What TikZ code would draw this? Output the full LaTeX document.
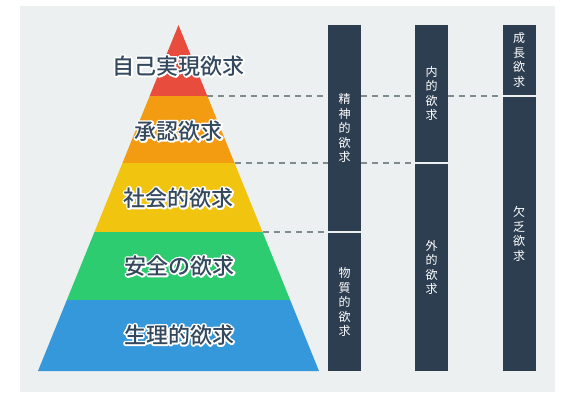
\documentclass[tikz,border=0pt]{standalone}
\usepackage{fontspec}
\newfontfamily\jp{Noto Sans CJK JP}
\newfontfamily\jpm{Noto Sans CJK JP Medium}
\definecolor{bgpanel}{HTML}{ECF0F1}
\definecolor{colbox}{HTML}{2C3E50}
\definecolor{lbltxt}{HTML}{34495E}
\definecolor{dashc}{HTML}{7F8C8D}
\definecolor{pred}{HTML}{E74C3C}
\definecolor{porange}{HTML}{F39C12}
\definecolor{pyellow}{HTML}{F1C40F}
\definecolor{pgreen}{HTML}{2ECC71}
\definecolor{pblue}{HTML}{3498DB}
\tikzset{
  lbl/.style={font=\jpm\fontsize{22}{24}\selectfont, text=lbltxt, inner sep=0pt},
  colseg/.style={fill=colbox, draw=none, minimum width=33pt, inner sep=0pt,
     text=white, align=center, font=\jp\fontsize{12}{14.5}\selectfont},
  guide/.style={draw=dashc, line width=2pt, dash pattern=on 6pt off 5pt},
}
\newcommand\halolabel[3]{%
  \node[lbl, text=white] at (#2) {\special{pdf:literal direct 2 Tr 3.4 w 1 j 1 J}#3\special{pdf:literal direct 0 Tr}};
  \node[lbl] (#1) at (#2) {#3};}
\begin{document}
\begin{tikzpicture}[x=1pt,y=-1pt]
\useasboundingbox (0,0) rectangle (576,407);
\fill[white] (0,0) rectangle (576,407);
\fill[bgpanel] (20,6) rectangle (555,392);
% pyramid
\begin{scope}
  \clip (178.5,25) -- (319,371) -- (38,371) -- cycle;
  \fill[pred]    (30,20)  rectangle (330,96);
  \fill[porange] (30,96)  rectangle (330,163);
  \fill[pyellow] (30,163) rectangle (330,232);
  \fill[pgreen]  (30,232) rectangle (330,300);
  \fill[pblue]   (30,300) rectangle (330,372);
\end{scope}
% pyramid edge points
\coordinate (e1) at (207.3,96);
\coordinate (e2) at (234.5,163);
\coordinate (e3) at (262.6,232);
% labels
\halolabel{l1}{178.5,66}{自己実現欲求}
\halolabel{l2}{178.5,131}{承認欲求}
\halolabel{l3}{178.5,198}{社会的欲求}
\halolabel{l4}{179.5,266}{安全の欲求}
\halolabel{l5}{179,335}{生理的欲求}
% columns
\node[colseg, minimum height=206pt] (c1a) at (344.5,128) {精\\神\\的\\欲\\求};
\node[colseg, minimum height=138pt] (c1b) at (344.5,302) {物\\質\\的\\欲\\求};
\node[colseg, minimum height=137pt] (c2a) at (431.5,93.5) {内\\的\\欲\\求};
\node[colseg, minimum height=207pt] (c2b) at (431.5,267.5) {外\\的\\欲\\求};
\node[colseg, minimum height=70pt] (c3a) at (519,60) {成\\長\\欲\\求};
\node[colseg, minimum height=274pt] (c3b) at (519,234) {欠\\乏\\欲\\求};
% dashed guides
\draw[guide] (e1) -- (e1 -| c1a.west);
\draw[guide] (e1 -| c1a.east) -- (e1 -| c2a.west);
\draw[guide] (e1 -| c2a.east) -- (e1 -| c3a.west);
\draw[guide] (e2) -- (e2 -| c1a.west);
\draw[guide] (e2 -| c1a.east) -- (e2 -| c2a.west);
\draw[guide] (e3) -- (e3 -| c1a.west);
\end{tikzpicture}
\end{document}
